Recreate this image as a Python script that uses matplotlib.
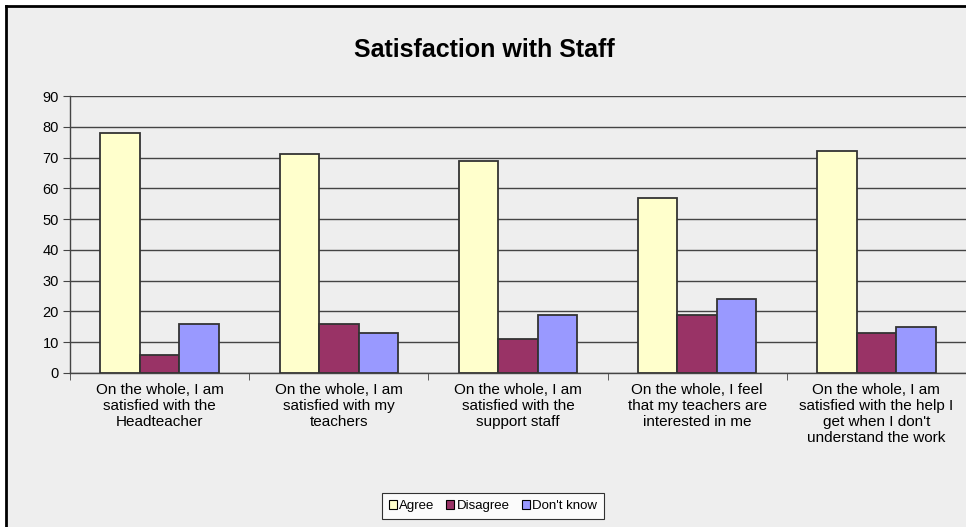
import matplotlib.pyplot as plt
import numpy as np
from matplotlib.patches import Patch

plt.rcParams["font.family"] = ["Liberation Sans", "DejaVu Sans"]

categories = [
    "On the whole, I am\nsatisfied with the\nHeadteacher",
    "On the whole, I am\nsatisfied with my\nteachers",
    "On the whole, I am\nsatisfied with the\nsupport staff",
    "On the whole, I feel\nthat my teachers are\ninterested in me",
    "On the whole, I am\nsatisfied with the help I\nget when I don't\nunderstand the work",
]
series = ["Agree", "Disagree", "Don't know"]
agree = [78, 71, 69, 57, 72]
disagree = [6, 16, 11, 19, 13]
dont_know = [16, 13, 19, 24, 15]
colors = ["#FFFFCC", "#993366", "#9999FF"]

bg = "#EEEEEE"
fig = plt.figure(figsize=(9.66, 5.27), dpi=100, facecolor=bg)
ax = fig.add_axes([70 / 966, 1 - 373 / 527, 1 - 70 / 966, (373 - 96) / 527])
ax.set_facecolor(bg)

x = np.arange(len(categories))
w = 0.22
for i, (vals, c) in enumerate(zip([agree, disagree, dont_know], colors)):
    ax.bar(x + (i - 1) * w, vals, width=w, color=c, edgecolor="#333333",
           linewidth=1.3, zorder=3)

ax.set_xlim(-0.5, len(categories) - 0.5)
ax.set_ylim(0, 90)
ax.set_yticks(range(0, 91, 10))
ax.yaxis.grid(True, color="#444444", linewidth=1.0, zorder=0)
ax.tick_params(axis="y", labelsize=10.5, length=5, color="#444444", pad=3)

ax.set_xticks(x)
ax.set_xticklabels(categories, fontsize=11, linespacing=1.2)
ax.tick_params(axis="x", length=0, pad=7)
ax.set_xticks(np.arange(-0.5, len(categories), 1.0), minor=True)
ax.tick_params(axis="x", which="minor", length=5, color="#444444")

for s in ["top", "right"]:
    ax.spines[s].set_visible(False)
for s in ["left", "bottom"]:
    ax.spines[s].set_color("#444444")
    ax.spines[s].set_linewidth(1.0)

fig.text(484 / 966, 1 - 50 / 527, "Satisfaction with Staff", ha="center",
         va="center", fontsize=18, fontweight="bold")

handles = [Patch(facecolor=c, edgecolor="black", linewidth=0.8) for c in colors]
leg = fig.legend(handles, series, loc="center", bbox_to_anchor=(493 / 966, 1 - 506 / 527),
                 ncol=3, fontsize=9.5, frameon=True, fancybox=False,
                 handlelength=0.6, handleheight=0.6, handletextpad=0.2,
                 columnspacing=0.9, borderpad=0.5)
leg.get_frame().set_edgecolor("black")
leg.get_frame().set_linewidth(0.8)
leg.get_frame().set_facecolor("white")

# chart frame: white margin with black border on top and left
fig.patches.append(plt.Rectangle((0, 0), 1, 1, transform=fig.transFigure,
                                 facecolor="white", edgecolor="none", zorder=-2))
fig.patches.append(plt.Rectangle((6 / 966, 0), 1, 1 - 6 / 527, transform=fig.transFigure,
                                 facecolor=bg, edgecolor="none", zorder=-1))
fig.add_artist(plt.Line2D([6 / 966, 6 / 966], [0, 1 - 6 / 527], transform=fig.transFigure,
                          color="black", linewidth=2))
fig.add_artist(plt.Line2D([6 / 966, 1], [1 - 6 / 527, 1 - 6 / 527], transform=fig.transFigure,
                          color="black", linewidth=2))

fig.savefig("out.png", dpi=100, facecolor=bg)
